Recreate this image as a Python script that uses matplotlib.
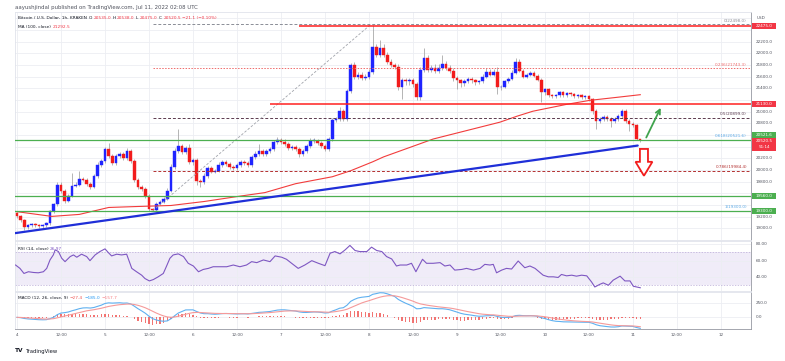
import numpy as np
import pandas as pd
import matplotlib
matplotlib.use("Agg")
import matplotlib.pyplot as plt
from matplotlib.patches import Rectangle, Polygon, FancyArrowPatch
from matplotlib.transforms import IdentityTransform

# ---------------- data ----------------
first_open = 19256.0
close = [
    19205, 19137, 19017, 19051, 19068, 19051, 19034, 19051, 19086, 19290,
    19409, 19749, 19647, 19477, 19562, 19732, 19749, 19851, 19834, 19766,
    19715, 19902, 20090, 20158, 20362, 20243, 20124, 20243, 20277, 20209,
    20328, 20158, 19834, 19715, 19681, 19562, 19324, 19310, 19426, 19460,
    19511, 19647, 20056, 20328, 20413, 20311, 20379, 20141, 20175, 19817,
    19800, 19902, 20039, 19971, 19988, 20090, 20141, 20107, 20056, 20039,
    20090, 20141, 20124, 20090, 20226, 20277, 20328, 20277, 20328, 20362,
    20481, 20515, 20481, 20447, 20379, 20396, 20362, 20277, 20328, 20413,
    20498, 20505, 20464, 20413, 20362, 20532, 20856, 20873, 21009, 20873,
    21349, 21808, 21604, 21638, 21587, 21604, 21689, 22115, 21979, 22098,
    21979, 21860, 21808, 21774, 21417, 21536, 21519, 21536, 21468, 21247,
    21723, 21928, 21723, 21757, 21706, 21757, 21826, 21757, 21706, 21587,
    21536, 21485, 21519, 21570, 21536, 21502, 21519, 21604, 21689, 21638,
    21689, 21417, 21430, 21519, 21570, 21672, 21860, 21706, 21604, 21638,
    21672, 21621, 21553, 21332, 21383, 21281, 21264, 21281, 21332, 21281,
    21315, 21298, 21264, 21281, 21247, 21264, 21213, 21009, 20839, 20873,
    20907, 20873, 20839, 20873, 20924, 21009, 20839, 20787, 20770, 20535,
    20520.5,
]
up_wick = [
    20, 25, 25, 25, 25, 25, 25, 25, 25, 30,
    30, 50, 40, 30, 30, 220, 40, 137, 30, 30,
    25, 30, 40, 40, 30, 100, 30, 40, 40, 30,
    50, 30, 30, 30, 30, 25, 25, 25, 30, 30,
    30, 40, 40, 50, 287, 40, 40, 60, 40, 40,
    30, 40, 35, 30, 30, 40, 30, 30, 30, 30,
    30, 30, 30, 30, 40, 50, 120, 40, 30, 30,
    40, 50, 30, 60, 40, 40, 30, 30, 30, 40,
    60, 40, 30, 30, 30, 30, 40, 40, 70, 40,
    40, 35, 40, 40, 40, 40, 40, 375, 50, 136,
    60, 40, 40, 30, 40, 40, 40, 40, 40, 40,
    40, 170, 40, 40, 60, 60, 150, 40, 40, 40,
    30, 30, 40, 30, 30, 30, 30, 40, 68, 40,
    40, 70, 30, 30, 30, 40, 70, 40, 30, 30,
    30, 30, 30, 30, 30, 30, 30, 30, 30, 30,
    30, 30, 30, 30, 30, 30, 30, 30, 30, 30,
    30, 30, 30, 40, 40, 40, 30, 30, 30, 20,
    3,
]
dn_wick = [
    30, 30, 40, 30, 30, 30, 30, 30, 30, 30,
    30, 30, 40, 40, 30, 30, 30, 30, 30, 40,
    34, 30, 30, 30, 30, 30, 40, 30, 30, 30,
    30, 30, 40, 40, 40, 40, 34, 10, 30, 30,
    30, 30, 30, 30, 30, 30, 30, 40, 60, 80,
    85, 40, 30, 30, 30, 30, 30, 30, 30, 30,
    30, 30, 30, 30, 30, 30, 30, 30, 30, 30,
    30, 30, 30, 30, 30, 30, 40, 60, 30, 30,
    30, 30, 30, 30, 40, 30, 30, 30, 30, 40,
    30, 30, 40, 40, 35, 40, 40, 40, 40, 40,
    40, 40, 40, 40, 40, 200, 60, 60, 40, 50,
    40, 40, 40, 40, 40, 40, 40, 40, 40, 60,
    150, 60, 40, 30, 40, 40, 30, 30, 30, 30,
    30, 120, 40, 30, 30, 30, 30, 30, 30, 30,
    30, 30, 30, 170, 40, 30, 30, 30, 30, 30,
    30, 30, 30, 30, 30, 30, 30, 40, 137, 40,
    40, 40, 100, 40, 30, 30, 40, 120, 40, 15,
    45.5,
]

ma_hours = [-0.5, 9.5, 17, 25, 33, 42, 51, 60, 67.6, 76, 86, 91, 97, 100, 103,
            113.5, 131.7, 136.4, 140.7, 150, 156.3, 163.6, 170]
ma_values = [19290, 19205, 19239, 19358, 19375, 19392, 19460, 19545, 19613, 19766,
             19885, 19988, 20141, 20226, 20294, 20532, 20821, 20924, 21009, 21128,
             21196, 21247, 21292.5]

rsi_hours = [
    -0.4, 0.8, 1.9, 3.1, 4.5, 5.8, 7.2, 8.1, 9.0, 9.9,
    10.4, 11.3, 12.2, 13.1, 14.5, 15.4, 16.3, 17.6, 19.0, 19.9,
    21.3, 22.6, 24.0, 24.9, 25.8, 27.2, 28.5, 29.9, 31.3, 32.6,
    34.0, 34.9, 36.1, 37.2, 38.5, 39.9, 40.8, 41.7, 42.6, 44.0,
    45.4, 46.7, 48.1, 49.5, 50.8, 52.2, 53.5, 55.4, 57.2, 59.0,
    60.8, 62.6, 64.0, 65.4, 67.2, 69.0, 70.4, 72.2, 73.5, 74.9,
    76.7, 78.5, 80.4, 82.2, 84.0, 85.4, 86.7, 88.1, 89.5, 90.8,
    92.2, 93.5, 95.4, 96.7, 98.1, 99.5, 100.8, 102.2, 103.5, 104.5,
    106.3, 107.6, 108.8, 110.6, 111.7, 113.5, 115.4, 116.7, 118.1, 119.4,
    121.3, 122.6, 124.5, 126.3, 127.6, 129.0, 129.9, 130.8, 132.2, 133.5,
    134.9, 136.7, 138.5, 139.9, 141.3, 143.5, 144.9, 146.3, 147.6, 148.5,
    149.9, 151.3, 152.6, 154.0, 155.4, 156.7, 157.6, 159.0, 159.9, 161.3,
    162.6, 164.5, 165.8, 167.2, 168.1, 170.0,
]
rsi_values = [
    54.7, 50.6, 44.4, 46.5, 45.6, 45.2, 46.5, 50.6, 60.9, 67.0,
    73.2, 71.1, 62.9, 58.8, 65.0, 67.0, 64.2, 67.9, 65.0, 60.0,
    67.0, 71.1, 74.4, 69.9, 65.8, 67.9, 67.0, 67.9, 50.6, 46.5,
    42.3, 38.2, 35.3, 37.0, 40.3, 44.4, 53.5, 62.9, 67.0, 68.3,
    65.0, 56.8, 53.5, 46.5, 49.3, 50.6, 52.6, 52.6, 52.6, 54.7,
    52.6, 54.7, 58.8, 57.6, 60.9, 58.8, 65.8, 64.2, 61.7, 56.8,
    50.6, 54.7, 60.0, 56.8, 53.9, 69.1, 71.1, 68.3, 73.2, 78.6,
    72.4, 71.1, 71.1, 76.5, 72.4, 71.1, 65.0, 62.1, 53.5, 54.7,
    54.7, 56.8, 46.5, 61.7, 56.8, 56.8, 57.6, 53.5, 54.7, 48.5,
    49.3, 50.6, 48.5, 50.6, 55.5, 54.7, 55.5, 45.2, 48.5, 50.6,
    49.8, 59.6, 51.4, 53.5, 50.6, 42.3, 40.3, 40.3, 39.5, 43.2,
    41.5, 42.3, 41.1, 42.3, 41.5, 34.1, 27.9, 31.2, 32.9, 30.0,
    36.2, 41.1, 35.3, 35.3, 28.8, 26.97,
]

time_ticks = list(range(0, 193, 12))
time_labels = ["4", "12:00", "5", "12:00", "6", "12:00", "7", "12:00", "8",
               "12:00", "9", "12:00", "10", "12:00", "11", "12:00", "12"]
price_ticks = [22200, 22000, 21800, 21600, 21400, 21000, 20800,
               20200, 20000, 19800, 19200, 19000]
rsi_ticks = [40, 60, 80]
macd_ticks = [0, 250]

fib_high, fib_low = 22498.0, 19300.0
fib_ratios = [0, 0.236, 0.5, 0.618, 0.786, 1]
fib_colors = ["#8a8d96", "#ef6b6b", "#5b3a4e", "#5aa9e6", "#b33030", "#5aa9e6"]
fib_styles = [(0, (3, 2)), (0, (1.5, 1.5)), (0, (3, 2)), "-", (0, (3, 2)), "-"]
green_levels = [20521.6, 19560.0, 19300.0]
green_labels = ["20521.6", "19560.0", "19300.0"]
red_levels = [21130.0, 22475.0]
red_labels = ["21130.0", "22475.0"]
red_starts = [69, 77]
trend_pts = ([-1.4, 169.3], [18910, 20420])
diag_pts = ([37, 96.5], [19300, 22498])
last_price = 20520.5

# ---------------- figure ----------------
W, H = 785, 361
fig = plt.figure(figsize=(W / 100, H / 100), dpi=100)
fig.patch.set_facecolor("white")
plt.rcParams["font.family"] = ["DejaVu Sans"]


def fr(x0, y0, x1, y1):
    return [x0 / W, 1 - y1 / H, (x1 - x0) / W, (y1 - y0) / H]


ax = fig.add_axes(fr(15, 12, 751, 240))
ax_rsi = fig.add_axes(fr(15, 241, 751, 291), sharex=ax)
ax_macd = fig.add_axes(fr(15, 292, 751, 329), sharex=ax)

XL = (-0.55, 200.2)
GRID = "#eceef3"
for a in (ax, ax_rsi, ax_macd):
    a.set_facecolor("white")
    a.set_xlim(*XL)
    a.set_xticks(time_ticks)
    a.tick_params(axis="both", length=0, labelleft=False, labelbottom=False,
                  labelright=False)
    a.grid(True, color=GRID, lw=0.6, zorder=0)
    for s in a.spines.values():
        s.set_color("#e0e3eb")
        s.set_linewidth(0.6)
    a.spines["right"].set_color("#9598a1")
ax_macd.spines["bottom"].set_color("#9598a1")

# ---------------- candles ----------------
UP, DN, WICK = "#1f24ff", "#f21c1c", "#a8a8a8"
opens = [first_open] + close[:-1]
for i in range(len(close)):
    o, c = opens[i], close[i]
    hi = max(o, c) + up_wick[i]
    lo = min(o, c) - dn_wick[i]
    col = UP if c >= o else DN
    ax.vlines(i, lo, hi, color=WICK, lw=0.6, zorder=3)
    ax.add_patch(Rectangle((i - 0.33, min(o, c)), 0.66, max(abs(c - o), 12),
                           fc=col, ec=col, lw=0.3, zorder=4))

ax.plot(ma_hours, ma_values, color="#f23c3c", lw=0.8, zorder=5)

ax.set_ylim(18830, 22711)
ax.set_yticks(list(range(18800, 22800, 200)))

# fib retracement
rng = fib_high - fib_low
for r, col, ls in zip(fib_ratios, fib_colors, fib_styles):
    lvl = fib_high - r * rng
    if ls != "-":
        ax.hlines(lvl, 37, XL[1], colors=col, linestyles=ls, lw=0.7, zorder=5)
    ax.text(199.1, lvl + 25, f"{r:g}({lvl:.1f})", color=col, fontsize=3.0,
            ha="right", va="bottom", zorder=6)
ax.plot(diag_pts[0], diag_pts[1], color="#a0a3aa", lw=0.6, ls=(0, (3, 2)), zorder=5)

# horizontal drawings
for lvl in green_levels:
    ax.axhline(lvl, color="#4caf50", lw=0.9, zorder=5)
for lvl, st in zip(red_levels, red_starts):
    ax.hlines(lvl, st, XL[1], colors="#ff2020", lw=1.1, zorder=5)
ax.plot(trend_pts[0], trend_pts[1], color="#1f2fd8", lw=1.6, zorder=6,
        solid_capstyle="round")

# arrows
ax.add_patch(FancyArrowPatch((171.3, 20515), (175.9, 21110), arrowstyle="->",
                             mutation_scale=8, color="#3fa34d", lw=1.3, zorder=7))
cx = 171.0
ax.add_patch(Polygon([(cx - 1.1, 20362), (cx + 1.1, 20362), (cx + 1.1, 20141),
                      (cx + 2.3, 20141), (cx, 19902), (cx - 2.3, 20141),
                      (cx - 1.1, 20141)], closed=True, fc="white", ec="#f21c1c",
                     lw=1.3, zorder=7))

# ---------------- RSI ----------------
ax_rsi.set_ylim(23, 84)
ax_rsi.set_yticks(rsi_ticks)
ax_rsi.axhspan(30, 70, color="#7e57c2", alpha=0.11, lw=0, zorder=1)
for lv in (30, 70):
    ax_rsi.axhline(lv, color="#b8a9d6", lw=0.5, ls=(0, (2, 2)), zorder=2)
ax_rsi.plot(rsi_hours, rsi_values, color="#7e57c2", lw=0.8, zorder=4)

# ---------------- MACD ----------------
cs = pd.Series(close, dtype=float)
macd = cs.ewm(span=12, adjust=False).mean() - cs.ewm(span=26, adjust=False).mean()
signal = macd.ewm(span=9, adjust=False).mean()
hist = macd - signal
ax_macd.set_ylim(-202, 441)
ax_macd.set_yticks(macd_ticks)
ax_macd.bar(np.arange(len(close)), hist.values, width=0.32, color="#ef5350",
            alpha=0.8, zorder=3)
ax_macd.plot(np.arange(len(close)), macd.values, color="#5fb0f0", lw=0.8, zorder=4)
ax_macd.plot(np.arange(len(close)), signal.values, color="#f59a9a", lw=0.8, zorder=4)

# ---------------- texts ----------------
IT = IdentityTransform()
renderer = fig.canvas.get_renderer()
DARK, GREY, RED = "#131722", "#50535e", "#f23645"


def ptext(x, y, s, color=DARK, size=3.0, ha="left", va="center", **kw):
    return fig.text(x, H - y, s, color=color, fontsize=size, ha=ha, va=va,
                    transform=IT, **kw)


def rich(x, y, parts, size=3.0, gap=1.5):
    for s, c in parts:
        t = ptext(x, y, s, c, size)
        x = t.get_window_extent(renderer=renderer).x1 + gap


ptext(15, 7, "aayushjindal published on TradingView.com, Jul 11, 2022 02:08 UTC",
      GREY, 3.9)
rich(18, 18, [("Bitcoin / U.S. Dollar, 1h, KRAKEN", DARK), ("O", DARK), ("20535.0", RED),
              ("H", DARK), ("20538.0", RED), ("L", DARK), ("20475.0", RED),
              ("C", DARK), ("20520.5", RED), ("\u221221.1 (\u22120.10%)", RED)], 3.1)
rich(18, 27, [("MA (100, close)", DARK), ("21292.5", RED)], 3.1)
rich(18, 249, [("RSI (14, close)", DARK), ("26.97", "#7e57c2")], 3.1)
rich(18, 298, [("MACD (12, 26, close, 9)", DARK), ("\u221227.4", "#ef5350"),
               ("\u2212185.0", "#2196f3"), ("\u2212157.7", "#f77c80")], 3.1)


def ypix(a, v):
    return H - a.transData.transform((0, v))[1]


# price scale labels
ptext(757, 18, "USD", GREY, 3.0)
for p in price_ticks:
    ptext(755.5, ypix(ax, p), f"{p:.1f}", GREY, 3.0)
for v in rsi_ticks:
    ptext(755.5, ypix(ax_rsi, v), f"{v:.2f}", GREY, 3.0)
for v in macd_ticks:
    ptext(755.5, ypix(ax_macd, v), f"{v:.1f}", GREY, 3.0)


def box(yc, text, fc, h=6.0):
    fig.add_artist(Rectangle((752, H - yc - h / 2), 24, h, transform=IT, fc=fc,
                             ec="none", zorder=10))
    ptext(764, yc, text, "white", 3.0, ha="center", zorder=11)


for lvl, lab in zip(red_levels, red_labels):
    box(ypix(ax, lvl), lab, "#f23645")
box(ypix(ax, green_levels[0]) - 4.5, green_labels[0], "#4caf50")
for lvl, lab in zip(green_levels[1:], green_labels[1:]):
    box(ypix(ax, lvl), lab, "#4caf50")
yc = ypix(ax, last_price) + 1.5
fig.add_artist(Rectangle((752, H - yc - 9.5), 24, 13, transform=IT, fc="#f23645",
                         ec="none", zorder=10))
ptext(764, yc, f"{last_price:.1f}", "white", 3.0, ha="center", zorder=11)
ptext(764, yc + 6, "51:14", "white", 3.0, ha="center", zorder=11)

# time axis labels
for t, lab in zip(time_ticks, time_labels):
    xp = ax.transData.transform((t, 0))[0]
    ptext(xp, 335, lab, GREY, 3.0, ha="center")

# footer logo
ptext(15, 351, "TV", DARK, 4.2, weight="bold")
ptext(26, 351, "TradingView", DARK, 3.8)

fig.savefig("out.png", dpi=100, facecolor="white")
